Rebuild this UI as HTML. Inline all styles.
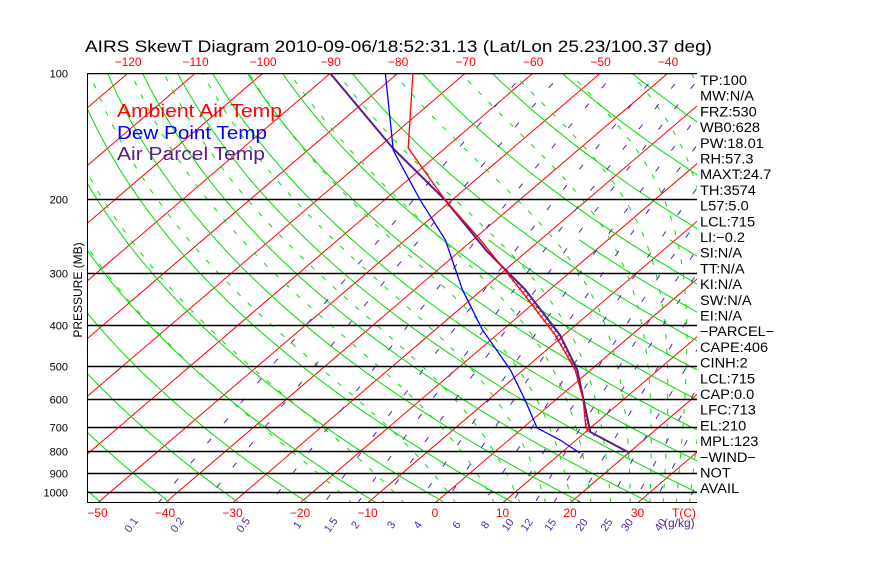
<!DOCTYPE html>
<html><head><meta charset="utf-8"><style>
body{margin:0;background:#fff;width:870px;height:560px;overflow:hidden}
svg text{font-family:"Liberation Sans",sans-serif}
</style></head><body>
<svg id="c" width="870" height="560" xmlns="http://www.w3.org/2000/svg">
<defs><clipPath id="plotclip"><rect x="87" y="73" width="610" height="430"/></clipPath></defs>
<g id="grid" clip-path="url(#plotclip)"></g>
<g id="marks" clip-path="url(#plotclip)"></g>
<g id="labels"></g>
<text x="85" y="52" textLength="627" lengthAdjust="spacingAndGlyphs" font-size="17">AIRS SkewT Diagram 2010-09-06/18:52:31.13 (Lat/Lon 25.23/100.37 deg)</text>
<text x="117" y="117" textLength="165" lengthAdjust="spacingAndGlyphs" font-size="18" fill="#ff0000">Ambient Air Temp</text>
<text x="117" y="139" textLength="150" lengthAdjust="spacingAndGlyphs" font-size="18" fill="#0000ff">Dew Point Temp</text>
<text x="117" y="160" textLength="148" lengthAdjust="spacingAndGlyphs" font-size="18" fill="#5b1a8c">Air Parcel Temp</text>
<text transform="translate(82,290) rotate(-90)" text-anchor="middle" font-size="12">PRESSURE (MB)</text>
<g id="stats"></g>
</svg>
<script>
// data
const ambientP = [100,151,201,250,329,422,511,603,692,719];
const ambientT = [-77.8,-65.5,-51.0,-38.9,-24.3,-11.3,-2.3,4.1,8.8,10.4];
const dewP = [100,153,201,250,329,410,511,603,703,751,807];
const dewT = [-81.9,-67.3,-54.7,-44.1,-32.9,-23.0,-11.9,-4.5,2.1,7.6,12.8];
const parcelP = [807,719,511,422,329,265,201,151,100];
const parcelT = [20.2,10.7,-2.0,-10.6,-23.6,-36.2,-51.0,-67.8,-90.1];
const pressureLevels = [100,200,300,400,500,600,700,800,900,1000];
const bottomTicks = [-50,-40,-30,-20,-10,0,10,20,30];
const topTicks = [-120,-110,-100,-90,-80,-70,-60,-50,-40];
const mixRatios = [0.1,0.2,0.5,1,1.5,2,3,4,6,8,10,12,15,20,25,30,40];
const mixLabels = ["0.1","0.2","0.5","1","1.5","2","3","4","6","8","10","12","15","20","25","30","40"];
const dryThetas = [200,210,220,230,240,250,260,270,280,290,300,310,320,330,340,350,360,370,380,390,400,410,420,430,440,450,460,470,480,490,500];
const moistStarts = [-16,-8,0,6,10,14,18,21,24,27,30,32,34,36,38,40,42,44];
const statsLines = ["TP:100","MW:N/A","FRZ:530","WB0:628","PW:18.01","RH:57.3","MAXT:24.7","TH:3574","L57:5.0","LCL:715","LI:\u22120.2","SI:N/A","TT:N/A","KI:N/A","SW:N/A","EI:N/A","\u2212PARCEL\u2212","CAPE:406","CINH:2","LCL:715","CAP:0.0","LFC:713","EL:210","MPL:123","\u2212WIND\u2212","NOT","AVAIL"];

const NS="http://www.w3.org/2000/svg";
const YB=503, X0=435, KX=6.75, SK=1.17, PY=182;
function yP(p){return 73+PY*Math.log(p/100);}
function xT(T,p){return X0+KX*T+SK*(YB-yP(p));}
const PBOT=100*Math.exp((YB-73)/PY);
function mk(tag,parent,attrs){const e=document.createElementNS(NS,tag);for(const k in attrs)e.setAttribute(k,attrs[k]);parent.appendChild(e);return e;}
const grid=document.getElementById('grid'), marks=document.getElementById('marks'), labels=document.getElementById('labels'), stats=document.getElementById('stats');
function pts(arr){return arr.map(a=>a[0].toFixed(1)+','+a[1].toFixed(1)).join(' ');}
const plist=[];for(let p=95;p<=PBOT+5;p+=5)plist.push(p);

// isotherms
for(let T=-160;T<=50;T+=10){
  const l=mk('line',grid,{x1:xT(T,PBOT),y1:YB,x2:xT(T,95),y2:yP(95),stroke:'#ff0000','stroke-width':1});
  
  
}
// dry adiabats
dryThetas.forEach(th=>{
  const pmin=(th>340&&th%20===10)?250:95;
  const a=plist.filter(p=>p>=pmin).map(p=>[xT(th*Math.pow(p/1000,0.286)-273.15,p),yP(p)]);
  const l=mk('polyline',grid,{points:pts(a),fill:'none',stroke:'#00dd00','stroke-width':1});
  
  
});
// moist adiabats
function es(T){return 6.112*Math.exp(17.67*T/(T+243.5));}
function dTdp(T,p){const Tk=T+273.15;const rs=0.622*es(T)/(p-es(T));const Lv=2.5e6,Rd=287,cp=1005;
  return (Rd*Tk+Lv*rs)/(p*(cp+Lv*Lv*rs*0.622/(Rd*Tk*Tk)));}
moistStarts.forEach(T0=>{
  let a=[];let T=T0,p=1000;
  let down=[];let Td=T0;for(let pp=1000;pp<PBOT+5;pp+=5){down.push([xT(Td,pp),yP(pp)]);Td+=dTdp(Td,pp)*5;}
  for(;p>=95;p-=5){a.push([xT(T,p),yP(p)]);T-=dTdp(T,p)*5;}
  a=down.reverse().concat(a);
  const l=mk('polyline',grid,{points:pts(a),fill:'none',stroke:'#00dd00','stroke-width':1,'stroke-dasharray':'5,10'});
  
  
});
// mixing ratio lines
function tdw(w,p){const e=w*p/(622+w);const L=Math.log(e/6.112);return 243.5*L/(17.67-L);}
mixRatios.forEach((w,i)=>{
  const a=plist.map(p=>[xT(tdw(w,p),p),yP(p)]);
  const l=mk('polyline',grid,{points:pts(a),fill:'none',stroke:'#5522aa','stroke-width':1,'stroke-dasharray':'6,20'});
  
  
  const x=xT(tdw(w,PBOT),PBOT)-24;
  const t=mk('text',labels,{transform:`translate(${x.toFixed(1)},527) rotate(-55)`,'text-anchor':'middle','font-size':11,fill:'#5522aa'});
  t.textContent=mixLabels[i];
  
  
});
// pressure lines
pressureLevels.forEach(p=>{
  const y=Math.round(yP(p))+0.5;
  const l=mk('line',grid,{x1:87,y1:y,x2:697,y2:y,stroke:'#000','stroke-width':1.5});
  
  
  const t=mk('text',labels,{x:68,y:y+4,'text-anchor':'end','font-size':11});
  t.textContent=p;
  
  
});
mk('line',grid,{x1:87,y1:YB,x2:697,y2:YB,stroke:'#000','stroke-width':2});
mk('line',grid,{x1:87,y1:73,x2:697,y2:73,stroke:'#000','stroke-width':2});
{const b=mk('line',labels,{x1:87.5,y1:73,x2:87.5,y2:503,stroke:'#000','stroke-width':1});

}
// tick labels
bottomTicks.forEach(T=>{
  const t=mk('text',labels,{x:xT(T,PBOT),y:517,'text-anchor':'middle','font-size':12,fill:'#ff0000'});
  t.textContent=T<0?'\u2212'+(-T):T;
  
  
});
{const t=mk('text',labels,{x:672,y:517,'font-size':12,fill:'#ff0000'});t.textContent='T(C)';

}
{const t=mk('text',labels,{x:664,y:527,'font-size':12,fill:'#5522aa'});t.textContent='(g/kg)';

}
topTicks.forEach(T=>{
  const t=mk('text',labels,{x:xT(T,100),y:66,'text-anchor':'middle','font-size':12,fill:'#ff0000'});
  t.textContent='\u2212'+(-T);
  
  
});
// CAPE hatching
function xAt(P,T,y){for(let i=0;i<P.length-1;i++){const y1=yP(P[i]),y2=yP(P[i+1]);if((y-y1)*(y-y2)<=0&&y1!==y2){const f=(y-y1)/(y2-y1);const TT=T[i]+(T[i+1]-T[i])*f;return xT(TT,P[i]*Math.pow(P[i+1]/P[i],f));}}return null;}
for(let y=yP(205);y<=yP(715);y+=4){
  const xa=xAt(ambientP,ambientT,y), xp=xAt(parcelP,parcelT,y);
  if(xa!==null&&xp!==null&&xp>xa+1){
    const l=mk('line',marks,{x1:xa,y1:y+2,x2:xp,y2:y-2,stroke:'#ff0000','stroke-width':1});
    
    
  }
}
function series(P,T,color,name,w){
  const a=P.map((p,i)=>[xT(T[i],p),yP(p)]);
  const l=mk('polyline',marks,{points:pts(a),fill:'none',stroke:color,'stroke-width':w});
  
  
}
series(parcelP,parcelT,'#5b1a8c','parcel-temp-line',2);
series(ambientP,ambientT,'#ff0000','ambient-temp-line',1.3);
series(dewP,dewT,'#0000ff','dew-point-line',1.3);
// stats
statsLines.forEach((s,i)=>{
  const t=mk('text',stats,{x:700,y:85+i*15.7,'font-size':13.5});
  t.textContent=s;
  
  
  const L=t.getComputedTextLength();
  t.setAttribute('textLength',(L*1.08).toFixed(1));
  t.setAttribute('lengthAdjust','spacingAndGlyphs');
});
</script>
</body></html>
